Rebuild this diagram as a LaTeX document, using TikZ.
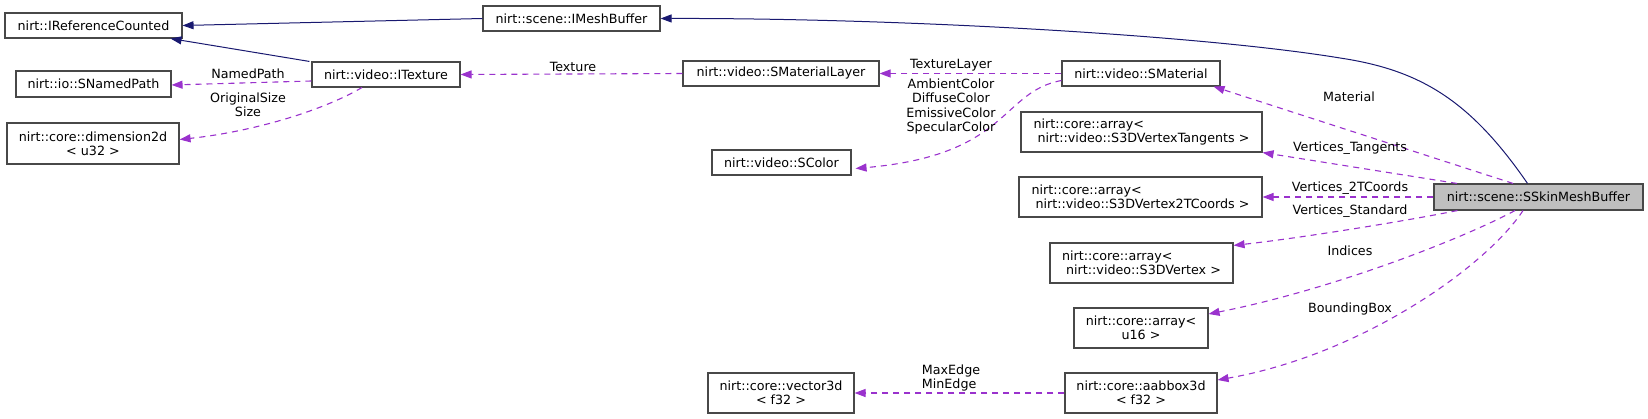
\documentclass[tikz,border=0pt]{standalone}
\usepackage{fontspec}
\setmainfont{DejaVu Sans}
\usepackage{tikz}
\usetikzlibrary{arrows.meta, calc}
\definecolor{inhcol}{RGB}{25,25,112}
\definecolor{memcol}{RGB}{154,50,205}
\definecolor{boxline}{RGB}{72,72,72}
\definecolor{curfill}{RGB}{191,191,191}

\begin{document}
\begin{tikzpicture}[
  x=1pt, y=-1pt,
  font=\fontsize{12.7}{14.3}\selectfont,
  cls/.style={draw=boxline, line width=1.1pt, fill=white, inner sep=0pt, align=center},
  cur/.style={cls, fill=curfill},
  inh/.style={draw=inhcol, line width=1pt, -{Triangle[length=11pt,width=8pt]}},
  mem/.style={draw=memcol, line width=1.1pt, dash pattern=on 6pt off 5pt,
              -{Triangle[length=11pt,width=8pt]}},
  lbl/.style={inner sep=0pt, align=center}
]
\useasboundingbox (0,0) rectangle (1648,419);

% ---------- classes ----------
\node[cls, minimum width=177pt, minimum height=25pt] (irc) at (93.5,25.5) {nirt::IReferenceCounted};
\node[cls, minimum width=177pt, minimum height=25pt] (imb) at (571.5,18.5) {nirt::scene::IMeshBuffer};
\node[cls, minimum width=155pt, minimum height=26pt] (snp) at (93.5,84) {nirt::io::SNamedPath};
\node[cls, minimum width=172pt, minimum height=41pt] (dim) at (93,143.5) {nirt::core::dimension2d\\< u32 >};
\node[cls, minimum width=148pt, minimum height=25pt] (itex) at (386,74.5) {nirt::video::ITexture};
\node[cls, minimum width=196pt, minimum height=25pt] (sml) at (781,73.5) {nirt::video::SMaterialLayer};
\node[cls, minimum width=139pt, minimum height=25pt] (scol) at (781.5,162.5) {nirt::video::SColor};
\node[cls, minimum width=158pt, minimum height=25pt] (smat) at (1141,73.5) {nirt::video::SMaterial};
\node[cls, align=left, minimum width=241pt, minimum height=40pt] (tan) at (1141.5,132)
  {nirt::core::array<\\\ nirt::video::S3DVertexTangents >};
\node[cls, align=left, minimum width=243pt, minimum height=40pt] (t2c) at (1140.5,197)
  {nirt::core::array<\\\ nirt::video::S3DVertex2TCoords >};
\node[cls, align=left, minimum width=183pt, minimum height=40pt] (s3d) at (1141.5,263)
  {nirt::core::array<\\\ nirt::video::S3DVertex >};
\node[cls, minimum width=134pt, minimum height=40pt] (u16) at (1141,328) {nirt::core::array<\\u16 >};
\node[cls, minimum width=152pt, minimum height=40pt] (aab) at (1141,393) {nirt::core::aabbox3d\\< f32 >};
\node[cls, minimum width=146pt, minimum height=40pt] (v3d) at (781,393) {nirt::core::vector3d\\< f32 >};
\node[cur, minimum width=209pt, minimum height=26pt] (skin) at (1538.5,197) {nirt::scene::SSkinMeshBuffer};

% ---------- inheritance ----------
\draw[inh] (imb.west) -- (irc.east);
\draw[inh] ($(itex.north west)+(-2,0)$) -- ($(irc.south east)+(-12,0)$);
\draw[inh] ($(skin.north)+(-11,0)$) .. controls (1470,100) and (1420,70) .. (1340,58)
  .. controls (1200,35) and (900,18) .. (imb.east);

% ---------- members ----------
\draw[mem] (itex.west |- 0,81) -- ($(snp.east)+(0,1)$);
\draw[mem] ($(itex.south)+(-24,0)$) .. controls (320,112) and (250,132) .. ($(dim.east)+(0,-4)$);
\draw[mem] (sml.west) -- (itex.east);
\draw[mem] (smat.west) -- (sml.east);
\draw[mem] ($(smat.west)+(0,7)$) .. controls (1000,92) and (1010,155) .. ($(scol.east)+(4,6)$);
\draw[mem] ($(skin.north)+(-25.5,0)$) -- ($(smat.south east)+(-7,0)$);
\draw[mem] ($(skin.north)+(-81.5,0)$) -- (tan.south east);
\draw[mem] (skin.west) -- (t2c.east);
\draw[mem] ($(skin.south west)+(24,0)$) .. controls (1400,222) and (1300,238) .. ($(s3d.north east)+(0,3)$);
\draw[mem] ($(skin.south)+(-23.5,0)$) .. controls (1460,240) and (1330,290) .. ($(u16.east)+(0,-14)$);
\draw[mem] ($(skin.south)+(-15.5,0)$) .. controls (1485,268) and (1360,355) .. ($(aab.east)+(0,-13)$);
\draw[mem] (aab.west) -- (v3d.east);

% ---------- edge labels ----------
\node[lbl] (lnamed) at (248,74) {NamedPath};
\node[lbl] (lsize) at (248,104.5) {OriginalSize\\Size};
\node[lbl] (ltex) at (573,67) {Texture};
\node[lbl] (llayer) at (951,65) {TextureLayer};
\node[lbl] (lcolor) at (951,106.5) {AmbientColor\\DiffuseColor\\EmissiveColor\\SpecularColor};
\node[lbl] (lmat) at (1349,97) {Material};
\node[lbl] (ltan) at (1350,148) {Vertices\_Tangents};
\node[lbl] (lt2c) at (1350,188) {Vertices\_2TCoords};
\node[lbl] (lstd) at (1350,211) {Vertices\_Standard};
\node[lbl] (lind) at (1350,251) {Indices};
\node[lbl] (lbox) at (1350,309) {BoundingBox};
\node[lbl, align=left] (ledge) at (951,378) {MaxEdge\\MinEdge};

\end{tikzpicture}
\end{document}
